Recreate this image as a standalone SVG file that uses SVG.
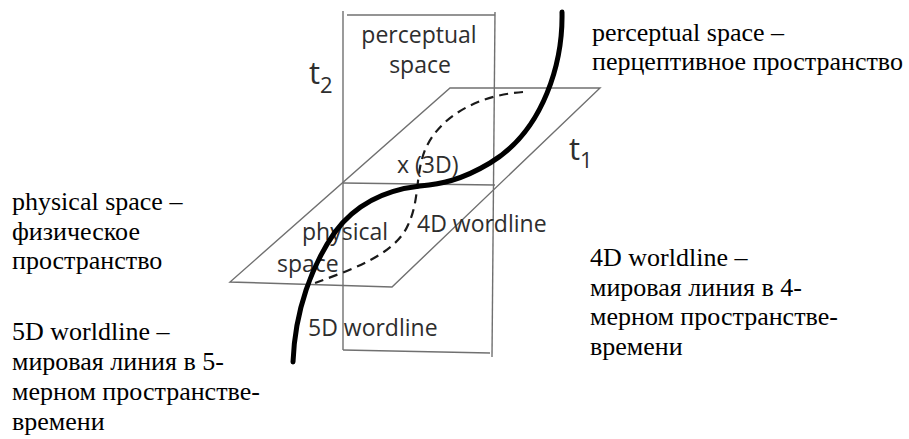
<svg xmlns="http://www.w3.org/2000/svg" width="909" height="439" viewBox="0 0 909 439">
<style>
.frame{fill:none;stroke:#707070;stroke-width:1.4}
.thick{fill:none;stroke:#000;stroke-width:5;stroke-linecap:round}
.dash{fill:none;stroke:#1a1a1a;stroke-width:2.2;stroke-dasharray:9 6}
.lbl{font-family:"Open Sans","DejaVu Sans",sans-serif;font-size:23px;fill:#2e2e2e}
.axis{font-family:"Open Sans","DejaVu Sans",sans-serif;font-size:31px;fill:#2e2e2e}
.sub{font-size:22px}
.note{font-family:"Liberation Serif","Times New Roman",serif;font-size:26px;fill:#000}
</style>
<rect width="909" height="439" fill="#fff"/>
<g id="perceptual-box">
<line class="frame" x1="343" y1="11" x2="343" y2="350"/>
<line class="frame" x1="347" y1="15" x2="495" y2="15"/>
<line class="frame" x1="495" y1="12" x2="492" y2="357"/>
<line class="frame" x1="343" y1="350" x2="490" y2="353"/>
<line class="frame" x1="343" y1="183" x2="495" y2="185"/>
<text class="lbl" x="419" y="43" text-anchor="middle">perceptual</text>
<text class="lbl" x="420" y="73" text-anchor="middle">space</text>
</g>
<g id="plane">
<polygon class="frame" points="450,88 600,88 392,287 230,282"/>
<text class="lbl" x="302" y="240">physical</text>
<text class="lbl" x="277" y="272">space</text>
</g>
<g id="connectors">
<path class="dash" d="M523,92 C480,95 440,115 425,150 C415,175 420,200 408,225 C395,255 350,270 315,283"/>
<path class="thick" d="M562,12 C563,60 545,130 490,163 C460,181 440,184 420,186 C385,190 355,205 335,232 C312,265 295,310 293,362"/>
</g>
<g id="axes">
<text class="axis" x="309" y="84">t<tspan class="sub" dy="9">2</tspan></text>
<text class="axis" x="569" y="160">t<tspan class="sub" dy="8">1</tspan></text>
</g>
<g id="inner-labels">
<text class="lbl" x="397" y="173">x (3D)</text>
<text class="lbl" x="417" y="232">4D wordline</text>
<text class="lbl" x="308" y="336">5D wordline</text>
</g>
<g id="notes">
<text class="note" x="592" y="41">perceptual space –</text>
<text class="note" x="592" y="70">перцептивное пространство</text>
<text class="note" x="12" y="210">physical space –</text>
<text class="note" x="12" y="240">физическое</text>
<text class="note" x="12" y="269">пространство</text>
<text class="note" x="590" y="266">4D worldline –</text>
<text class="note" x="590" y="296">мировая линия в 4-</text>
<text class="note" x="590" y="325">мерном пространстве-</text>
<text class="note" x="590" y="355">времени</text>
<text class="note" x="12" y="340">5D worldline –</text>
<text class="note" x="12" y="370">мировая линия в 5-</text>
<text class="note" x="12" y="400">мерном пространстве-</text>
<text class="note" x="12" y="430">времени</text>
</g>
</svg>
